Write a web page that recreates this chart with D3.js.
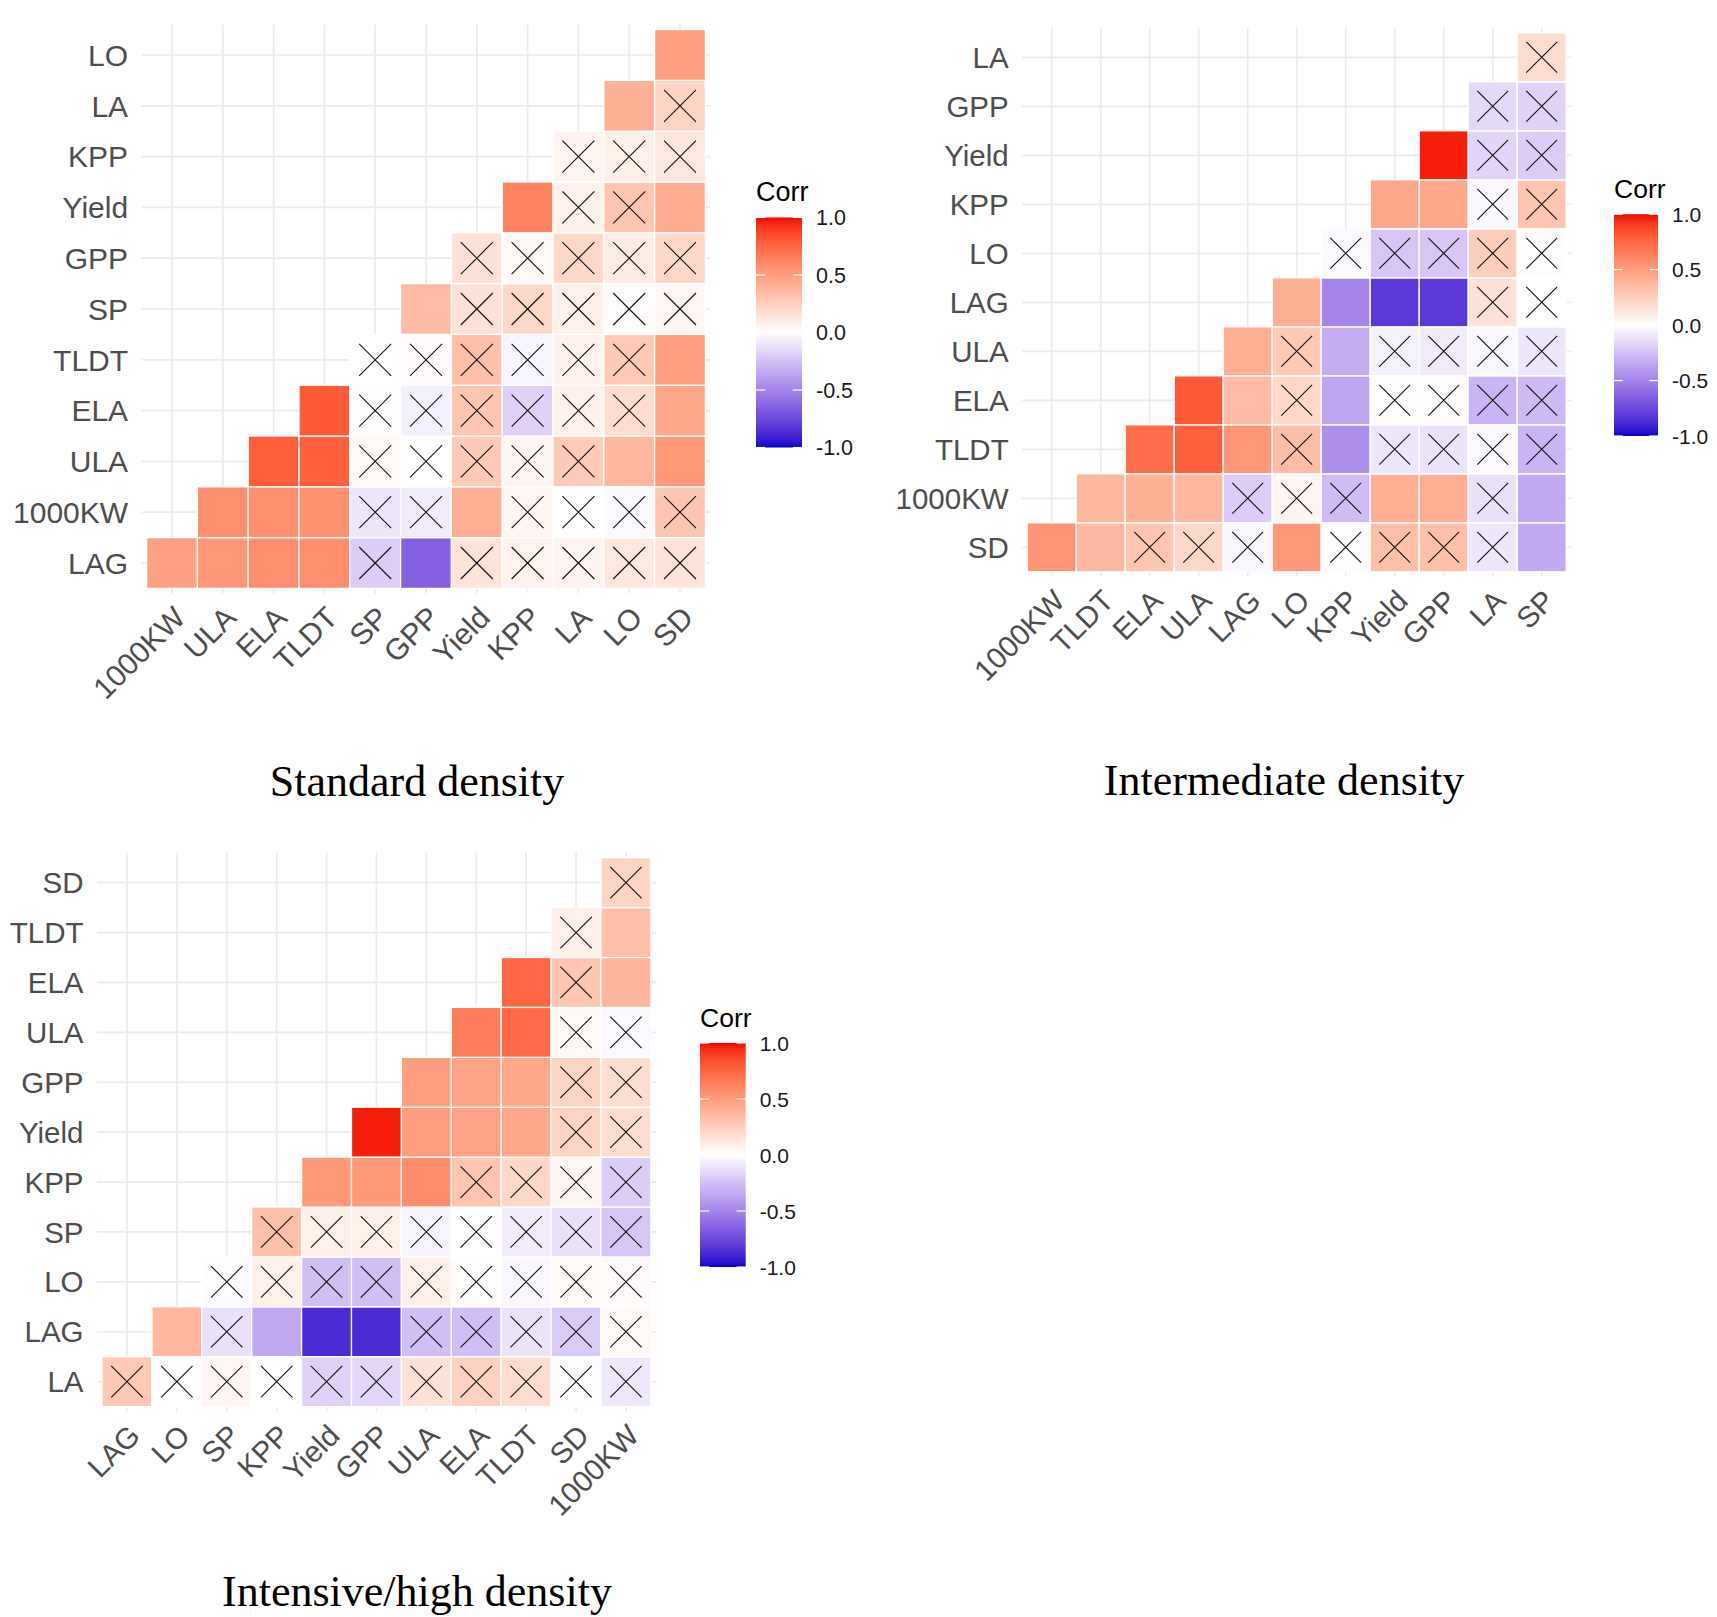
<!DOCTYPE html>
<html>
<head>
<meta charset="utf-8">
<script src="https://cdn.jsdelivr.net/npm/d3@7"></script>
<style>
  body { margin: 0; background: #ffffff; }
  svg { display: block; }
</style>
</head>
<body>
<svg id="chart" width="1717" height="1617"></svg>
<script>
// ---------------- DATA ----------------
// Variable orders (first var is only on y axis, last var only on x axis)
const stdVars  = ["LAG","1000KW","ULA","ELA","TLDT","SP","GPP","Yield","KPP","LA","LO","SD"];
const midVars  = ["SD","1000KW","TLDT","ELA","ULA","LAG","LO","KPP","Yield","GPP","LA","SP"];
const highVars = ["LA","LAG","LO","SP","KPP","Yield","GPP","ULA","ELA","TLDT","SD","1000KW"];

// Correlations: one row per y variable (bottom to top), cells from the diagonal to the right
const stdCorr = [
  [0.48, 0.53, 0.57, 0.57, -0.20, -0.65, 0.14, 0.06, 0.05, 0.12, 0.14],
  [0.57, 0.57, 0.56, -0.10, -0.08, 0.42, 0.04, 0.00, -0.02, 0.30],
  [0.78, 0.78, 0.03, 0.00, 0.27, 0.04, 0.27, 0.37, 0.53],
  [0.80, 0.01, -0.06, 0.30, -0.18, 0.07, 0.18, 0.45],
  [0.00, 0.02, 0.33, -0.04, 0.06, 0.28, 0.50],
  [0.35, 0.15, 0.20, 0.08, 0.01, 0.04],
  [0.15, 0.03, 0.20, 0.10, 0.20],
  [0.62, 0.07, 0.30, 0.43],
  [0.05, 0.08, 0.12],
  [0.40, 0.22],
  [0.50]
];
// 1 = not significant (crossed)
const stdInsig = [
  [0,0,0,0,1,0,1,1,1,1,1],
  [0,0,0,1,1,0,1,1,1,1],
  [0,0,1,1,1,1,1,0,0],
  [0,1,1,1,1,1,1,0],
  [1,1,1,1,1,1,0],
  [0,1,1,1,1,1],
  [1,1,1,1,1],
  [0,1,1,0],
  [1,1,1],
  [0,1],
  [0]
];

const midCorr = [
  [0.54, 0.36, 0.30, 0.20, -0.03, 0.52, -0.01, 0.33, 0.33, -0.10, -0.35],
  [0.37, 0.40, 0.37, -0.20, 0.05, -0.27, 0.42, 0.42, -0.12, -0.35],
  [0.72, 0.78, 0.53, 0.34, -0.45, -0.10, -0.11, -0.02, -0.30],
  [0.80, 0.35, 0.20, -0.36, 0.01, 0.01, -0.30, -0.28],
  [0.42, 0.28, -0.33, -0.05, -0.08, -0.03, -0.10],
  [0.40, -0.50, -0.82, -0.82, 0.15, 0.00],
  [-0.02, -0.23, -0.23, 0.26, 0.01],
  [0.45, 0.45, -0.03, 0.30],
  [0.97, -0.17, -0.20],
  [-0.15, -0.18],
  [0.18]
];
const midInsig = [
  [0,0,1,1,1,0,1,1,1,1,0],
  [0,0,0,1,1,1,0,0,1,0],
  [0,0,0,1,0,1,1,1,1],
  [0,0,1,0,1,1,1,1],
  [0,1,0,1,1,1,1],
  [0,0,0,0,1,1],
  [1,1,1,1,1],
  [0,0,1,1],
  [0,1,1],
  [1,1],
  [1]
];

const highCorr = [
  [0.28, 0.00, 0.04, 0.00, -0.18, -0.16, 0.15, 0.24, 0.18, -0.01, -0.09],
  [0.37, -0.12, -0.35, -0.87, -0.87, -0.26, -0.26, -0.11, -0.21, 0.03],
  [-0.01, 0.08, -0.26, -0.26, 0.08, 0.01, -0.03, 0.03, 0.02],
  [0.33, 0.08, 0.08, -0.04, 0.00, -0.08, -0.12, -0.23],
  [0.52, 0.52, 0.58, 0.30, 0.20, 0.04, -0.20],
  [0.97, 0.50, 0.47, 0.45, 0.22, 0.17],
  [0.50, 0.47, 0.45, 0.22, 0.17],
  [0.65, 0.73, 0.03, -0.02],
  [0.75, 0.30, 0.38],
  [0.08, 0.33],
  [0.22]
];
const highInsig = [
  [1,1,1,1,1,1,1,1,1,1,1],
  [0,1,0,0,0,1,1,1,1,1],
  [1,1,1,1,1,1,1,1,1],
  [1,1,1,1,1,1,1,1],
  [0,0,0,1,1,1,1],
  [0,0,0,0,1,1],
  [0,0,0,1,1],
  [0,0,1,1],
  [0,1,0],
  [1,0],
  [1]
];

const legendTicks = [1.0, 0.5, 0.0, -0.5, -1.0];
const legendLabels = ["1.0", "0.5", "0.0", "-0.5", "-1.0"];
const legendTitle = "Corr";
const panelTitles = ["Standard density", "Intermediate density", "Intensive/high density"];

// ---------------- LAYOUT ----------------
const layouts = [
  { left: 146.6, top: 29.6, cell: 50.8, font: 30, lx: 756, ly: 217.5, lw: 46, lh: 230, lfont: 21.5, tfont: 27, tx: 417, ty: 796 },
  { left: 1027.2, top: 32.8, cell: 49.0, font: 29.5, lx: 1614, ly: 214.2, lw: 44, lh: 221.8, lfont: 21, tfont: 26.5, tx: 1284, ty: 795 },
  { left: 102.0, top: 857.7, cell: 49.9, font: 29.5, lx: 700, ly: 1043, lw: 45.7, lh: 224, lfont: 21, tfont: 26.5, tx: 417, ty: 1606 }
];

const FONT = "'Liberation Sans', Arial, Helvetica, sans-serif";
const SERIF = "'Liberation Serif', 'Times New Roman', serif";

const color = d3.scaleLinear()
  .domain([-1, 0, 1])
  .range(["#0000CD", "#FFFFFF", "#F20000"])
  .interpolate(d3.interpolateLab)
  .clamp(true);

const svg = d3.select("#chart");
svg.append("rect").attr("width", 1717).attr("height", 1617).attr("fill", "#ffffff");

const defs = svg.append("defs");
const grad = defs.append("linearGradient").attr("id", "corrGrad")
  .attr("x1", 0).attr("y1", 1).attr("x2", 0).attr("y2", 0);
d3.range(0, 81).forEach(i => {
  const v = -1 + i * 2 / 80;
  grad.append("stop").attr("offset", i / 80).attr("stop-color", color(v));
});

function drawPanel(cfg, vars, corr, insig, title) {
  const n = vars.length - 1;
  const xCats = vars.slice(1);
  const yCats = vars.slice(0, n);
  const x = d3.scaleBand().domain(xCats).range([cfg.left, cfg.left + n * cfg.cell]).padding(0);
  const y = d3.scaleBand().domain(yCats).range([cfg.top + n * cfg.cell, cfg.top]).padding(0);
  const bw = x.bandwidth(), bh = y.bandwidth();
  const ext = 5;
  const px0 = cfg.left - ext, px1 = cfg.left + n * cfg.cell + ext;
  const py0 = cfg.top - ext, py1 = cfg.top + n * cfg.cell + ext;

  const g = svg.append("g");

  // grid lines
  g.append("g").selectAll("line").data(yCats).join("line")
    .attr("x1", px0).attr("x2", px1)
    .attr("y1", d => y(d) + bh / 2).attr("y2", d => y(d) + bh / 2)
    .attr("stroke", "#ebebeb").attr("stroke-width", 1.7);
  g.append("g").selectAll("line").data(xCats).join("line")
    .attr("y1", py0).attr("y2", py1)
    .attr("x1", d => x(d) + bw / 2).attr("x2", d => x(d) + bw / 2)
    .attr("stroke", "#ebebeb").attr("stroke-width", 1.7);

  // cells
  const cells = [];
  corr.forEach((row, r) => row.forEach((v, k) => {
    const c = r + k;
    cells.push({ xv: xCats[c], yv: yCats[r], v: v, s: insig[r][k] });
  }));
  g.append("g").selectAll("rect").data(cells).join("rect")
    .attr("x", d => x(d.xv)).attr("y", d => y(d.yv))
    .attr("width", bw).attr("height", bh)
    .attr("fill", d => color(d.v))
    .attr("stroke", "#ffffff").attr("stroke-width", 1.3);

  // crosses for insignificant
  const half = cfg.cell * 0.315;
  const cx = g.append("g").selectAll("g").data(cells.filter(d => d.s === 1)).join("g")
    .attr("transform", d => `translate(${x(d.xv) + bw / 2},${y(d.yv) + bh / 2})`);
  cx.append("line").attr("x1", -half).attr("y1", -half).attr("x2", half).attr("y2", half)
    .attr("stroke", "#111").attr("stroke-width", 1.1);
  cx.append("line").attr("x1", -half).attr("y1", half).attr("x2", half).attr("y2", -half)
    .attr("stroke", "#111").attr("stroke-width", 1.1);

  // y axis labels
  g.append("g").selectAll("text").data(yCats).join("text")
    .attr("x", cfg.left - 18.5)
    .attr("y", d => y(d) + bh / 2)
    .attr("dy", "0.36em")
    .attr("text-anchor", "end")
    .attr("font-family", FONT).attr("font-size", cfg.font)
    .attr("fill", "#4d4d4d")
    .text(d => d);

  // x axis labels (rotated 45)
  const xBase = cfg.top + n * cfg.cell + 16;
  g.append("g").selectAll("text").data(xCats).join("text")
    .attr("transform", d => `translate(${x(d) + bw / 2},${xBase}) rotate(-45)`)
    .attr("dy", "0.71em")
    .attr("text-anchor", "end")
    .attr("font-family", FONT).attr("font-size", cfg.font)
    .attr("fill", "#4d4d4d")
    .text(d => d);

  // legend
  const lg = svg.append("g");
  const ls = d3.scaleLinear().domain([-1, 1]).range([cfg.ly + cfg.lh, cfg.ly]);
  lg.append("rect").attr("x", cfg.lx).attr("y", cfg.ly).attr("width", cfg.lw).attr("height", cfg.lh)
    .attr("fill", "url(#corrGrad)");
  const tl = cfg.lw / 5;
  lg.selectAll(".tkl").data(legendTicks).join("line")
    .attr("x1", cfg.lx).attr("x2", cfg.lx + tl)
    .attr("y1", d => ls(d)).attr("y2", d => ls(d))
    .attr("stroke", "#ffffff").attr("stroke-width", 1.2);
  lg.selectAll(".tkr").data(legendTicks).join("line")
    .attr("x1", cfg.lx + cfg.lw - tl).attr("x2", cfg.lx + cfg.lw)
    .attr("y1", d => ls(d)).attr("y2", d => ls(d))
    .attr("stroke", "#ffffff").attr("stroke-width", 1.2);
  lg.selectAll("text.lab").data(legendTicks).join("text")
    .attr("class", "lab")
    .attr("x", cfg.lx + cfg.lw + 14)
    .attr("y", d => ls(d))
    .attr("dy", "0.36em")
    .attr("font-family", FONT).attr("font-size", cfg.lfont)
    .attr("fill", "#1a1a1a")
    .text((d, i) => legendLabels[i]);
  lg.append("text")
    .attr("x", cfg.lx).attr("y", cfg.ly - 26)
    .attr("dy", "0.36em")
    .attr("font-family", FONT).attr("font-size", cfg.tfont)
    .attr("fill", "#000")
    .text(legendTitle);

  // panel title
  svg.append("text")
    .attr("x", cfg.tx).attr("y", cfg.ty)
    .attr("text-anchor", "middle")
    .attr("font-family", SERIF).attr("font-size", 44)
    .attr("fill", "#000")
    .text(title);
}

drawPanel(layouts[0], stdVars, stdCorr, stdInsig, panelTitles[0]);
drawPanel(layouts[1], midVars, midCorr, midInsig, panelTitles[1]);
drawPanel(layouts[2], highVars, highCorr, highInsig, panelTitles[2]);
</script>
</body>
</html>
